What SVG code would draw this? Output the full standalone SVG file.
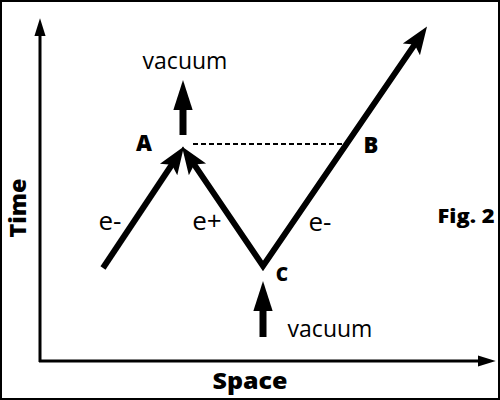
<svg xmlns="http://www.w3.org/2000/svg" width="500" height="400" viewBox="0 0 500 400">
<style>
.thin{font-family:"Open Sans","Noto Sans","Liberation Sans",sans-serif;font-weight:400;fill:#000}
.bold{font-family:"Open Sans","Noto Sans","Liberation Sans",sans-serif;font-weight:800;fill:#000}
.path{fill:none;stroke:#000;stroke-width:6;stroke-linejoin:miter;stroke-miterlimit:10}
.axis{fill:none;stroke:#000;stroke-width:3}
.up{fill:none;stroke:#000;stroke-width:7}
</style>
<defs>
<marker id="head" markerUnits="userSpaceOnUse" markerWidth="30" markerHeight="24" viewBox="0 0 26 20" refX="12" refY="10" orient="auto-start-reverse">
<path d="M0,1 L24,10 L0,19 L5,10 z" fill="#000"/>
</marker>
<marker id="axhead" markerUnits="userSpaceOnUse" markerWidth="18" markerHeight="12" viewBox="0 0 16 10" refX="2" refY="5" orient="auto">
<path d="M0,0 L16,5 L0,10 z" fill="#000"/>
</marker>
<marker id="vhead" markerUnits="userSpaceOnUse" markerWidth="30" markerHeight="20" viewBox="0 0 28 18" refX="0" refY="9" orient="auto">
<path d="M0,0 L28,9 L0,18 z" fill="#000"/>
</marker>
</defs>
<rect x="0" y="0" width="500" height="400" fill="#fff"/>
<rect x="1" y="1" width="498" height="398" fill="none" stroke="#000" stroke-width="2"/>
<g id="axes">
<line class="axis" x1="40" y1="362" x2="40" y2="34" marker-end="url(#axhead)"/>
<line class="axis" x1="39" y1="361" x2="480" y2="361" marker-end="url(#axhead)"/>
<text class="bold" transform="translate(26,208) rotate(-90)" text-anchor="middle" font-size="23" textLength="59" lengthAdjust="spacingAndGlyphs">Time</text>
<text class="bold" x="250" y="389" text-anchor="middle" font-size="23" textLength="75" lengthAdjust="spacingAndGlyphs">Space</text>
</g>
<g id="connectors">
<line class="path" x1="103" y1="268" x2="176.3" y2="158" marker-end="url(#head)"/>
<polyline class="path" points="189.7,157.9 263,266 419.2,37.9" marker-start="url(#head)" marker-end="url(#head)"/>
<line x1="193" y1="144" x2="347" y2="144" stroke="#000" stroke-width="2" stroke-dasharray="5,3"/>
<line class="up" x1="183" y1="135" x2="183" y2="110" marker-end="url(#vhead)"/>
<line class="up" x1="263" y1="337" x2="263" y2="311" marker-end="url(#vhead)"/>
</g>
<g id="node-A">
<text class="bold" x="144" y="151" text-anchor="middle" font-size="22">A</text>
</g>
<g id="node-B">
<text class="bold" x="371" y="153" text-anchor="middle" font-size="22">B</text>
</g>
<g id="node-C">
<text class="bold" x="282" y="281" text-anchor="middle" font-size="19">C</text>
</g>
<g id="labels">
<text class="thin" x="185" y="69" text-anchor="middle" font-size="23">vacuum</text>
<text class="thin" x="330" y="337" text-anchor="middle" font-size="23">vacuum</text>
<text class="thin" x="110" y="230" text-anchor="middle" font-size="26">e-</text>
<text class="thin" x="207" y="230" text-anchor="middle" font-size="26">e+</text>
<text class="thin" x="320" y="231" text-anchor="middle" font-size="26">e-</text>
<text class="bold" x="466" y="223" text-anchor="middle" font-size="19" textLength="57" lengthAdjust="spacingAndGlyphs">Fig. 2</text>
</g>
</svg>
